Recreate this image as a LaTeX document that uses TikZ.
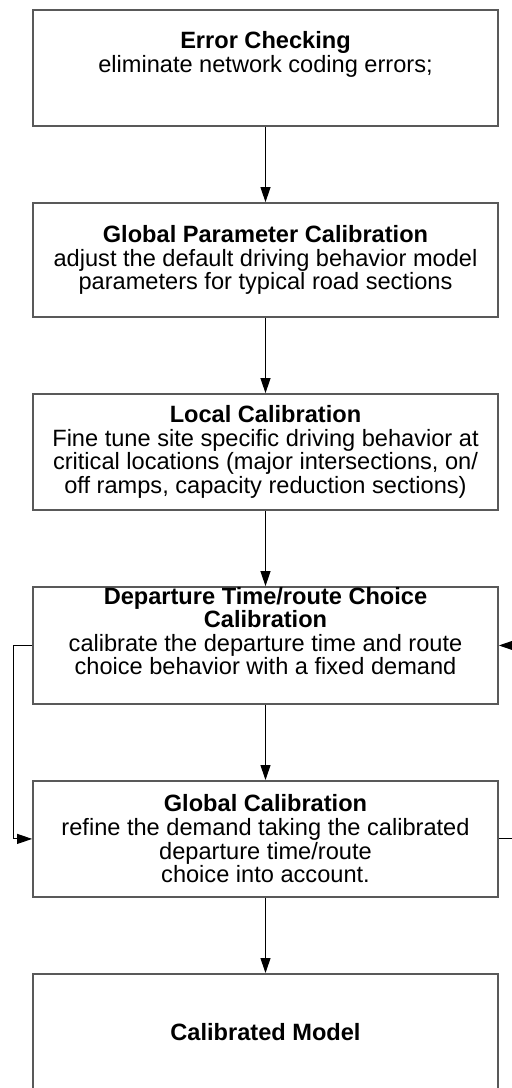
\documentclass[tikz,border=0pt]{standalone}
\usepackage{fontspec}
\setmainfont{Liberation Sans}
\usetikzlibrary{arrows.meta,positioning}

\begin{document}
\begin{tikzpicture}[
  box/.style={draw=black!65,line width=0.9pt,align=center,minimum width=232.5pt,
    minimum height=58pt,inner sep=2pt,font=\fontsize{11.8}{11.8}\selectfont},
  arr/.style={-{Triangle[length=7.5pt,width=5pt]},line width=0.5pt},
  node distance=37.6pt
]
  \useasboundingbox[fill=white] (0,0) rectangle (255.5pt,-544pt);

  \node[box,text depth=16pt] (err) at (132.75pt,-34pt)
    {\textbf{Error Checking}\\eliminate network coding errors;};
  \node[box,below=of err,minimum height=57pt] (gpar)
    {\textbf{Global Parameter Calibration}\\adjust the default driving behavior model\\parameters for typical road sections};
  \node[box,below=of gpar] (loc)
    {\textbf{Local Calibration}\\Fine tune site specific driving behavior at\\critical locations (major intersections, on/\\off ramps, capacity reduction sections)};
  \node[box,below=of loc,inner ysep=0pt,text depth=14.5pt] (dep)
    {\textbf{Departure Time/route Choice}\\\textbf{Calibration}\\calibrate the departure time and route\\choice behavior with a fixed demand};
  \node[box,below=of dep] (glob)
    {\textbf{Global Calibration}\\refine the demand taking the calibrated\\departure time/route\\choice into account.};
  \node[box,below=of glob] (cal) {\textbf{Calibrated Model}};

  \draw[arr] (err) -- (gpar);
  \draw[arr] (gpar) -- (loc);
  \draw[arr] (loc) -- (dep);
  \draw[arr] (dep) -- (glob);
  \draw[arr] (glob) -- (cal);

  % feedback loop, right side runs past the page edge
  \draw[arr] (dep.west) -- ++(-9.5pt,0) |- (glob.west);
  \draw[arr] (glob.east) -- ++(14pt,0) |- (dep.east);
\end{tikzpicture}
\end{document}
